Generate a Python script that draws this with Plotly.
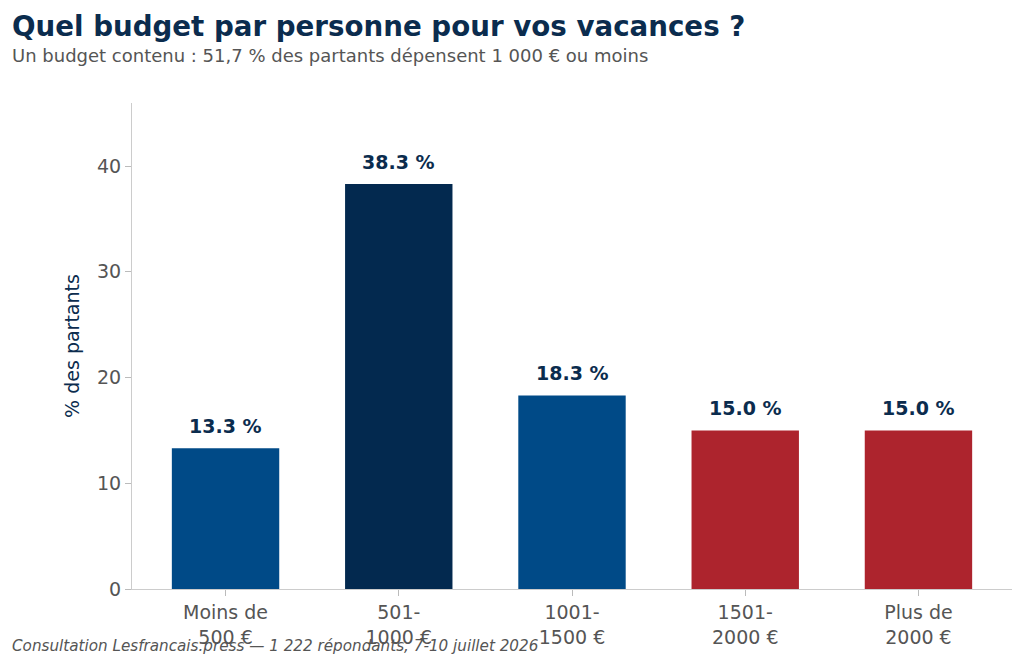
import plotly.graph_objects as go

categories = ["Moins de<br>500 €", "501-<br>1000 €", "1001-<br>1500 €", "1501-<br>2000 €", "Plus de<br>2000 €"]
values = [13.3, 38.3, 18.3, 15.0, 15.0]
colors = ["#004A87", "#03294F", "#004A87", "#AD242D", "#AD242D"]
value_labels = [f"{v:.1f} %" for v in values]

NAVY = "#0B2C4E"
GRAY = "#555555"
FONT = "DejaVu Sans"

L, R, T, B = 132, 12, 103, 79
PW, PH = 1024 - L - R, 668 - T - B

fig = go.Figure()
fig.add_trace(go.Bar(
    x=list(range(len(categories))),
    y=values,
    width=0.62,
    marker=dict(color=colors, line=dict(width=0)),
    hoverinfo="skip",
))

for i, (v, lab) in enumerate(zip(values, value_labels)):
    fig.add_annotation(x=i, y=v, xref="x", yref="y", text=f"<b>{lab}</b>",
                       showarrow=False, yanchor="bottom", yshift=9,
                       font=dict(family=FONT, size=19, color=NAVY))

fig.update_layout(
    width=1024, height=668,
    margin=dict(l=L, r=R, t=T, b=B),
    paper_bgcolor="white", plot_bgcolor="white",
    font=dict(family=FONT, color=GRAY),
    showlegend=False,
)
fig.update_xaxes(
    range=[-0.54, 4.54],
    tickmode="array",
    tickvals=list(range(len(categories))),
    ticktext=categories,
    ticks="outside", ticklen=6, tickcolor="#BBBBBB",
    showline=True, linecolor="#CCCCCC", linewidth=1,
    tickfont=dict(family=FONT, size=19, color=GRAY),
    showgrid=False, zeroline=False,
)
fig.update_yaxes(
    range=[0, 45.96],
    tickvals=[0, 10, 20, 30, 40],
    ticks="outside", ticklen=6, tickcolor="#BBBBBB",
    showline=True, linecolor="#CCCCCC", linewidth=1,
    tickfont=dict(family=FONT, size=19, color=GRAY),
    showgrid=False, zeroline=False,
    title=dict(text="% des partants", font=dict(family=FONT, size=19, color=NAVY), standoff=12),
)

fig.add_annotation(text="<b>Quel budget par personne pour vos vacances ?</b>",
                   xref="paper", yref="paper", x=-(L - 10) / PW, y=1 + (T - 8) / PH,
                   xanchor="left", yanchor="top",
                   showarrow=False, font=dict(family=FONT, size=27.7, color=NAVY))
fig.add_annotation(text="Un budget contenu : 51,7 % des partants dépensent 1 000 € ou moins",
                   xref="paper", yref="paper", x=-(L - 10) / PW, y=1 + (T - 43) / PH,
                   xanchor="left", yanchor="top",
                   showarrow=False, font=dict(family=FONT, size=18, color=GRAY))
fig.add_annotation(text="<i>Consultation Lesfrancais.press — 1 222 répondants, 7-10 juillet 2026</i>",
                   xref="paper", yref="paper", x=-(L - 10) / PW, y=-(B - 11) / PH,
                   xanchor="left", yanchor="bottom",
                   showarrow=False, font=dict(family=FONT, size=15.2, color=GRAY))

fig.write_html("out.html")
